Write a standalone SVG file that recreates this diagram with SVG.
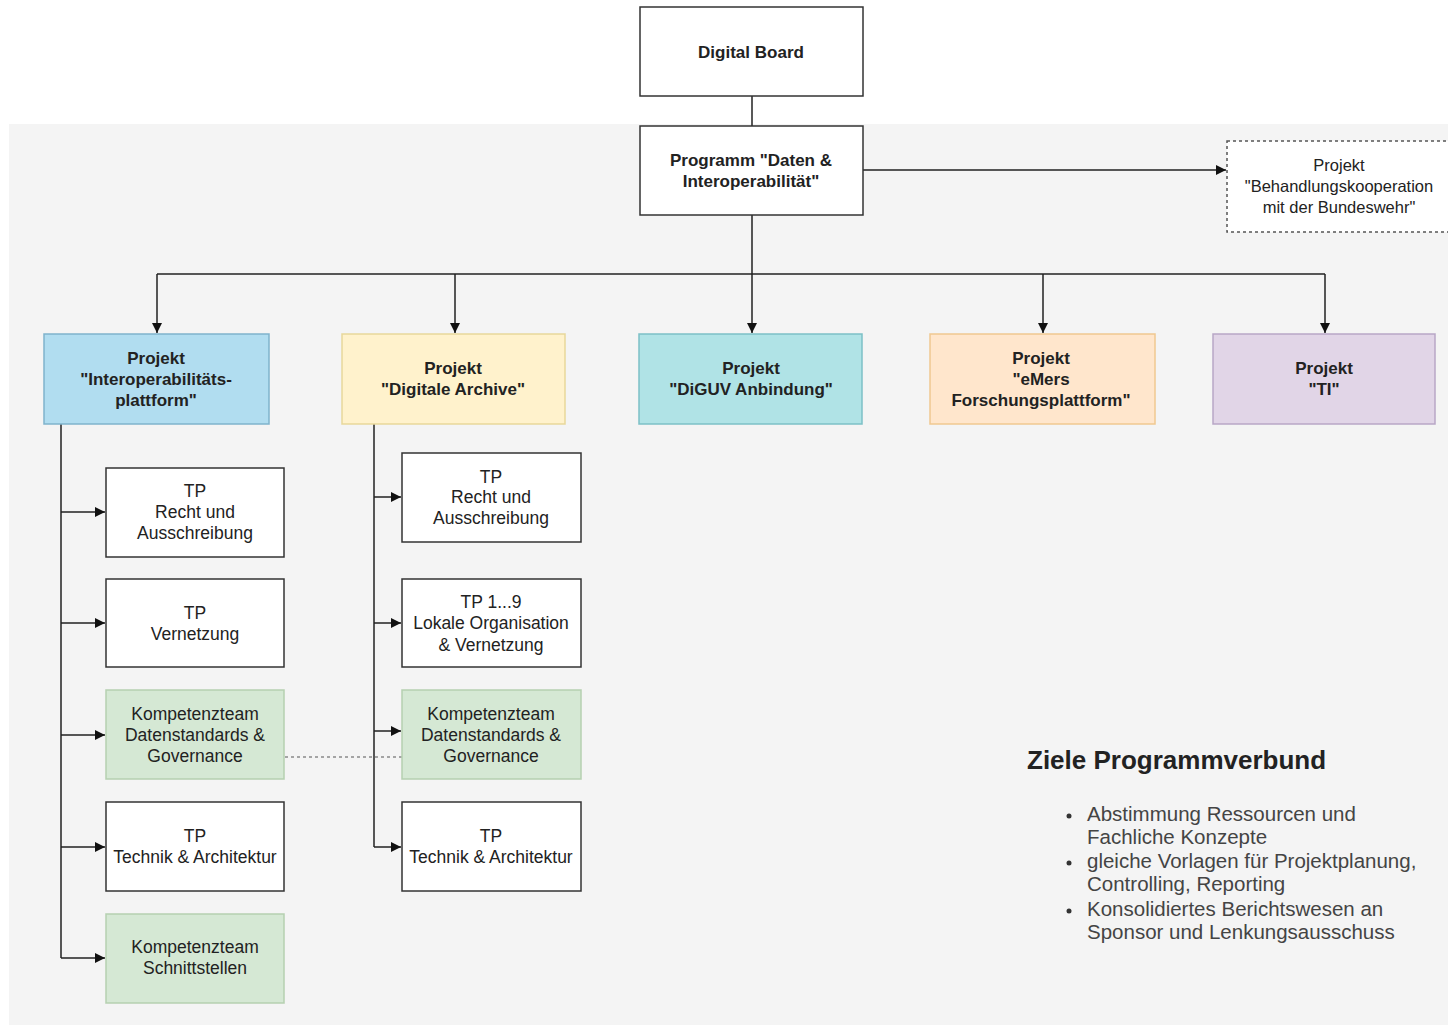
<svg xmlns="http://www.w3.org/2000/svg" width="1448" height="1025" viewBox="0 0 1448 1025">
<defs>
<marker id="arr" markerWidth="12" markerHeight="12" refX="11" refY="6" orient="auto" markerUnits="userSpaceOnUse">
<path d="M1,1 L11,6 L1,11 Z" fill="#111"/>
</marker>
</defs>
<style>
text{font-family:"Liberation Sans",Arial,sans-serif;font-size:17.5px;fill:#222;text-anchor:middle}
.b{font-weight:bold;font-size:17px}
.box{fill:#fff;stroke:#333;stroke-width:1.5}
.green{fill:#d5e8d4;stroke:#b5d0b0;stroke-width:1.5}
.con{fill:none;stroke:#222;stroke-width:1.5}
.goal{text-anchor:start;font-size:20.5px;fill:#444}
</style>
<rect x="0" y="0" width="1448" height="1025" fill="#fff"/>
<rect x="9" y="124" width="1439" height="901" fill="#f4f4f4"/>

<g id="connectors">
<path class="con" d="M752,96 V126"/>
<path class="con" d="M863,170 H1226" marker-end="url(#arr)"/>
<path class="con" d="M752,215 V274"/>
<path class="con" d="M157,274 H1325"/>
<path class="con" d="M157,274 V333" marker-end="url(#arr)"/>
<path class="con" d="M455,274 V333" marker-end="url(#arr)"/>
<path class="con" d="M752,274 V333" marker-end="url(#arr)"/>
<path class="con" d="M1043,274 V333" marker-end="url(#arr)"/>
<path class="con" d="M1325,274 V333" marker-end="url(#arr)"/>
<path class="con" d="M61,424 V958"/>
<path class="con" d="M61,512 H105" marker-end="url(#arr)"/>
<path class="con" d="M61,623 H105" marker-end="url(#arr)"/>
<path class="con" d="M61,735 H105" marker-end="url(#arr)"/>
<path class="con" d="M61,847 H105" marker-end="url(#arr)"/>
<path class="con" d="M61,958 H105" marker-end="url(#arr)"/>
<path class="con" d="M374,424 V847"/>
<path class="con" d="M374,497 H401" marker-end="url(#arr)"/>
<path class="con" d="M374,623 H401" marker-end="url(#arr)"/>
<path class="con" d="M374,731 H401" marker-end="url(#arr)"/>
<path class="con" d="M374,847 H401" marker-end="url(#arr)"/>
<path d="M285,757 H402" fill="none" stroke="#555" stroke-width="1.2" stroke-dasharray="3,3"/>
</g>

<g id="digital-board">
<rect class="box" x="640" y="7" width="223" height="89"/>
<text class="b" x="751" y="58">Digital Board</text>
</g>
<g id="programm">
<rect class="box" x="640" y="126" width="223" height="89"/>
<text class="b" x="751" y="166">Programm "Daten &amp;</text>
<text class="b" x="751" y="187">Interoperabilität"</text>
</g>
<g id="bundeswehr">
<rect x="1227" y="141" width="225" height="91" fill="#fff" stroke="#555" stroke-width="1.5" stroke-dasharray="3,3"/>
<text x="1339" y="171" style="font-size:16.5px">Projekt</text>
<text x="1339" y="192" style="font-size:16.5px">"Behandlungskooperation</text>
<text x="1339" y="213" style="font-size:16.5px">mit der Bundeswehr"</text>
</g>

<g id="p-interop">
<rect x="44" y="334" width="225" height="90" fill="#b1ddf0" stroke="#7fb3cc" stroke-width="1.5"/>
<text class="b" x="156" y="364">Projekt</text>
<text class="b" x="156" y="385">"Interoperabilitäts-</text>
<text class="b" x="156" y="406">plattform"</text>
</g>
<g id="p-archive">
<rect x="342" y="334" width="223" height="90" fill="#fff2cc" stroke="#e8d79a" stroke-width="1.5"/>
<text class="b" x="453" y="374">Projekt</text>
<text class="b" x="453" y="395">"Digitale Archive"</text>
</g>
<g id="p-diguv">
<rect x="639" y="334" width="223" height="90" fill="#b0e3e6" stroke="#7cc0c6" stroke-width="1.5"/>
<text class="b" x="751" y="374">Projekt</text>
<text class="b" x="751" y="395">"DiGUV Anbindung"</text>
</g>
<g id="p-emers">
<rect x="930" y="334" width="225" height="90" fill="#ffe6cc" stroke="#f0c890" stroke-width="1.5"/>
<text class="b" x="1041" y="364">Projekt</text>
<text class="b" x="1041" y="385">"eMers</text>
<text class="b" x="1041" y="406">Forschungsplattform"</text>
</g>
<g id="p-ti">
<rect x="1213" y="334" width="222" height="90" fill="#e1d5e7" stroke="#b8a6c6" stroke-width="1.5"/>
<text class="b" x="1324" y="374">Projekt</text>
<text class="b" x="1324" y="395">"TI"</text>
</g>

<g id="l-recht">
<rect class="box" x="106" y="468" width="178" height="89"/>
<text x="195" y="497">TP</text><text x="195" y="518">Recht und</text><text x="195" y="539">Ausschreibung</text>
</g>
<g id="l-vernetzung">
<rect class="box" x="106" y="579" width="178" height="88"/>
<text x="195" y="619">TP</text><text x="195" y="640">Vernetzung</text>
</g>
<g id="l-kt-daten">
<rect class="green" x="106" y="690" width="178" height="89"/>
<text x="195" y="720">Kompetenzteam</text><text x="195" y="741">Datenstandards &amp;</text><text x="195" y="762">Governance</text>
</g>
<g id="l-technik">
<rect class="box" x="106" y="802" width="178" height="89"/>
<text x="195" y="842">TP</text><text x="195" y="863">Technik &amp; Architektur</text>
</g>
<g id="l-kt-schnitt">
<rect class="green" x="106" y="914" width="178" height="89"/>
<text x="195" y="953">Kompetenzteam</text><text x="195" y="974">Schnittstellen</text>
</g>

<g id="r-recht">
<rect class="box" x="402" y="453" width="179" height="89"/>
<text x="491" y="483">TP</text><text x="491" y="503">Recht und</text><text x="491" y="524">Ausschreibung</text>
</g>
<g id="r-tp19">
<rect class="box" x="402" y="579" width="179" height="88"/>
<text x="491" y="608">TP 1...9</text><text x="491" y="629">Lokale Organisation</text><text x="491" y="651">&amp; Vernetzung</text>
</g>
<g id="r-kt-daten">
<rect class="green" x="402" y="690" width="179" height="89"/>
<text x="491" y="720">Kompetenzteam</text><text x="491" y="741">Datenstandards &amp;</text><text x="491" y="762">Governance</text>
</g>
<g id="r-technik">
<rect class="box" x="402" y="802" width="179" height="89"/>
<text x="491" y="842">TP</text><text x="491" y="863">Technik &amp; Architektur</text>
</g>

<g id="goals">
<text x="1027" y="769" style="text-anchor:start;font-size:26px;font-weight:bold;fill:#222">Ziele Programmverbund</text>
<circle cx="1069" cy="816" r="2.5" fill="#333"/>
<circle cx="1069" cy="863" r="2.5" fill="#333"/>
<circle cx="1069" cy="911" r="2.5" fill="#333"/>
<text class="goal" x="1087" y="821">Abstimmung Ressourcen und</text>
<text class="goal" x="1087" y="844">Fachliche Konzepte</text>
<text class="goal" x="1087" y="868">gleiche Vorlagen für Projektplanung,</text>
<text class="goal" x="1087" y="891">Controlling, Reporting</text>
<text class="goal" x="1087" y="916">Konsolidiertes Berichtswesen an</text>
<text class="goal" x="1087" y="939">Sponsor und Lenkungsausschuss</text>
</g>
</svg>
